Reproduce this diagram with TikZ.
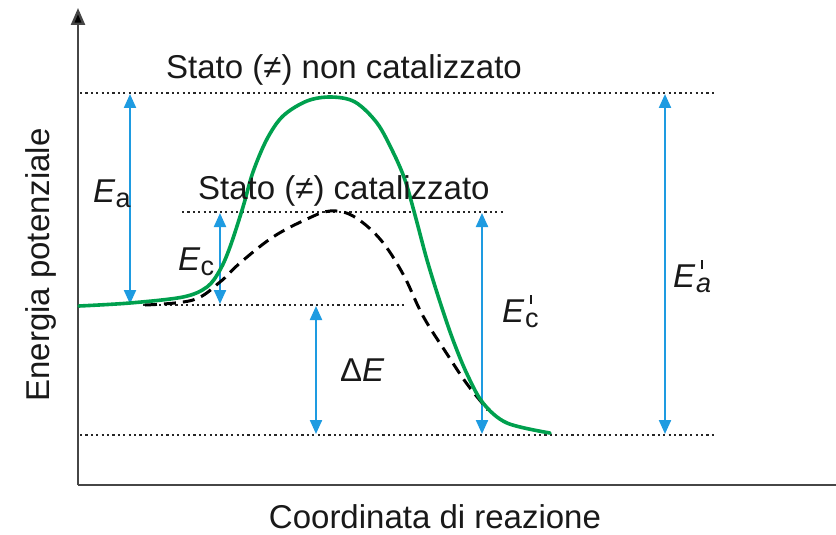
\documentclass[tikz,border=0pt]{standalone}
\usepackage{fontspec}
\setmainfont{Liberation Sans}
\usetikzlibrary{arrows.meta}
\definecolor{curvegreen}{RGB}{0,160,78}
\definecolor{arrowblue}{RGB}{30,155,225}
\definecolor{axisgray}{RGB}{70,70,70}
\newcommand\bigfont{\fontsize{33}{38}\selectfont}
\newcommand\subfont{\fontsize{27}{30}\selectfont}
\newcommand\Esub[1]{\textit{E}\raisebox{-5pt}{\subfont #1}}
\newcommand\Esubp[1]{\textit{E}\kern0.5pt\rlap{\raisebox{-5pt}{\subfont #1}}\kern5pt\raisebox{18pt}{\rule{2pt}{9pt}}\kern8pt}
\begin{document}
\begin{tikzpicture}[x=1pt,y=-1pt,
  axis/.style={draw=axisgray,line width=2.4pt},
  levelline/.style={draw=black!85,line width=1.6pt,dash pattern=on 2.2pt off 3.2pt},
  barrow/.style={draw=arrowblue,line width=2.2pt,{Triangle[length=14pt,width=12pt]}-{Triangle[length=14pt,width=12pt]}},
  greencurve/.style={draw=curvegreen,line width=3.6pt,line cap=round},
  dashcurve/.style={draw=black,line width=3pt,dash pattern=on 12pt off 7pt},
  lbl/.style={inner sep=0pt,font=\bigfont,text=black!90}]
\useasboundingbox (0,0) rectangle (836,535);
% axes
\coordinate (origin) at (78,485);
\coordinate (ytop) at (78,8);
\coordinate (xend) at (836,485);
\draw[axis] (origin) -- (xend);
\draw[axis,-{Triangle[length=17pt,width=14pt,fill=black]}] (origin) -- (ytop);
% level lines
\coordinate (l1a) at (80,93);  \coordinate (l1b) at (716,93);
\coordinate (l2a) at (182,212); \coordinate (l2b) at (505,212);
\coordinate (l3a) at (143,305); \coordinate (l3b) at (405,305);
\coordinate (l4a) at (80,435); \coordinate (l4b) at (717,435);
\draw[levelline] (l1a) -- (l1b);
\draw[levelline] (l2a) -- (l2b);
\draw[levelline] (l3a) -- (l3b);
\draw[levelline] (l4a) -- (l4b);
% blue arrows
\coordinate (eaT) at (130,94);  \coordinate (eaB) at (130,304);
\coordinate (ecT) at (220,213); \coordinate (ecB) at (220,304);
\coordinate (deT) at (316,306); \coordinate (deB) at (316,434);
\coordinate (ecpT) at (482,213); \coordinate (ecpB) at (482,434);
\coordinate (eapT) at (665,94); \coordinate (eapB) at (665,434);
\draw[barrow] (eaT) -- (eaB);
\draw[barrow] (ecT) -- (ecB);
\draw[barrow] (deT) -- (deB);
\draw[barrow] (ecpT) -- (ecpB);
\draw[barrow] (eapT) -- (eapB);
% dashed (catalysed) curve
\draw[dashcurve] plot[smooth,tension=0.6] coordinates {(145,305) (193,300) (220,282) (240,263) (273,237) (307,219) (330,211) (353,216) (380,239) (403,274) (423,316) (447,354) (467,384) (488,410)};
% green (uncatalysed) curve
\draw[greencurve] plot[smooth,tension=0.55] coordinates {(79,306) (130,303) (183,297) (207,287) (220,270) (230,247) (243,207) (253,172) (267,139) (283,116) (307,101) (331,97) (355,102) (377,123) (393,152) (405,180) (415,215) (427,260) (440,302) (453,340) (467,374) (483,403) (507,423) (550,433)};
% labels
\node[lbl,anchor=base west] (tsnc) at (166,78) {Stato (≠) non catalizzato};
\node[lbl,anchor=base west] (tsc) at (198,199) {Stato (≠) catalizzato};
\node[lbl,anchor=base west] (lea) at (93,202) {\Esub{a}};
\node[lbl,anchor=base west] (lec) at (178,270) {\Esub{c}};
\node[lbl,anchor=base west] (lde) at (340,381) {Δ\textit{E}};
\node[lbl,anchor=base west] (lecp) at (502,322) {\Esubp{c}};
\node[lbl,anchor=base west] (leap) at (673,287) {\Esubp{\textit{a}}};
\node[lbl,anchor=base] (xlab) at (435,528) {Coordinata di reazione};
\node[lbl,rotate=90,anchor=base] (ylab) at (49,265) {Energia potenziale};
\end{tikzpicture}
\end{document}
